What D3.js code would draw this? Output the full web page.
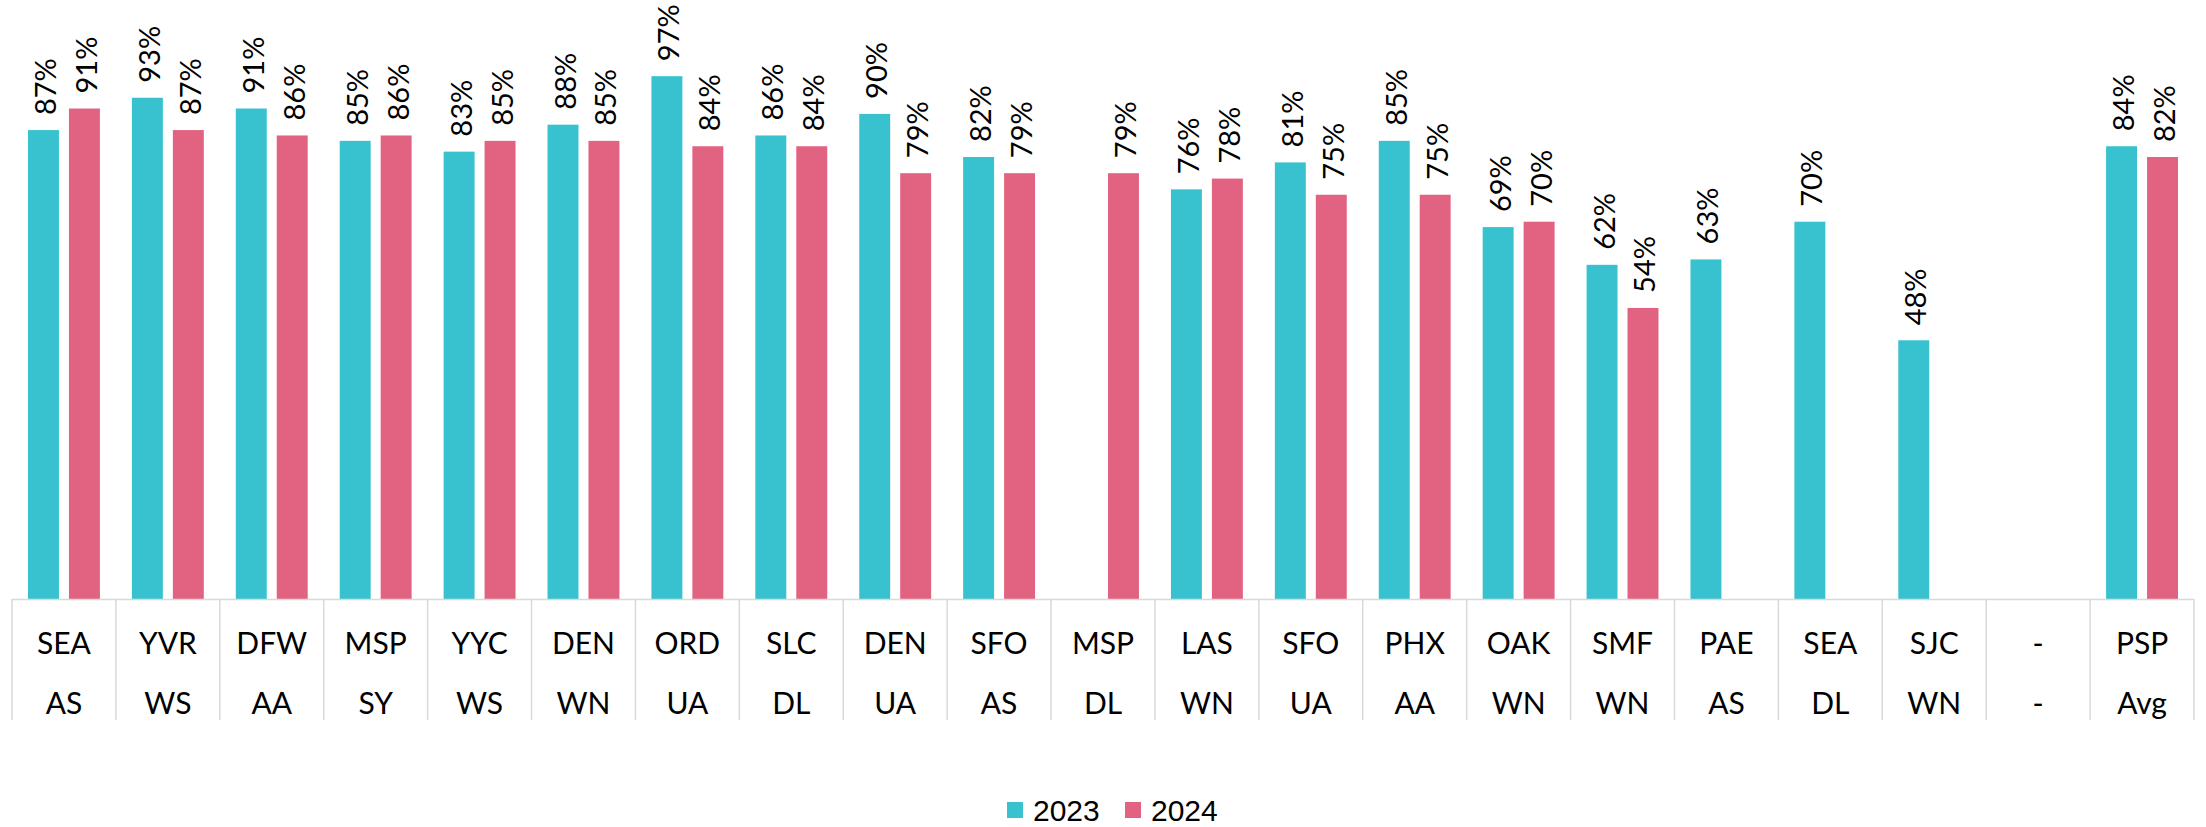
<!DOCTYPE html>
<html>
<head>
<meta charset="utf-8">
<script src="https://cdn.jsdelivr.net/npm/d3@7"></script>
<style>
html,body{margin:0;padding:0;background:#fff;}
svg{display:block;}
</style>
</head>
<body>
<svg id="chart" width="2206" height="827"></svg>
<script>
const airports = ["SEA","YVR","DFW","MSP","YYC","DEN","ORD","SLC","DEN","SFO","MSP","LAS","SFO","PHX","OAK","SMF","PAE","SEA","SJC","-","PSP"];
const carriers = ["AS","WS","AA","SY","WS","WN","UA","DL","UA","AS","DL","WN","UA","AA","WN","WN","AS","DL","WN","-","Avg"];
const values2023 = [87,93,91,85,83,88,97,86,90,82,null,76,81,85,69,62,63,70,48,null,84];
const values2024 = [91,87,86,86,85,85,84,84,79,79,79,78,75,75,70,54,null,null,null,null,82];
const seriesNames = ["2023","2024"];
const seriesColors = ["#38C2D0","#E26381"];

const svg = d3.select("#chart");
const font = "Lato, 'Noto Sans', sans-serif";
const idx = d3.range(airports.length);

const x = d3.scaleBand().domain(idx).range([12, 2194]).paddingInner(0).paddingOuter(0);
const step = x.bandwidth();
const x1 = d3.scaleBand().domain(seriesNames).range([16, step - 16]).paddingInner(0.244);
const y = d3.scaleLinear().domain([0, 100]).range([599, 60]);

const series = [values2023, values2024];

// bars
series.forEach((vals, si) => {
  const g = svg.append("g");
  const data = idx.filter(i => vals[i] != null);
  g.selectAll("rect").data(data).join("rect")
    .attr("x", i => x(i) + x1(seriesNames[si]))
    .attr("y", i => y(vals[i]))
    .attr("width", x1.bandwidth())
    .attr("height", i => y(0) - y(vals[i]))
    .attr("fill", seriesColors[si]);
  g.selectAll("text").data(data).join("text")
    .attr("transform", i => `translate(${x(i) + x1(seriesNames[si]) + x1.bandwidth()/2 + 1},${y(vals[i]) - 15}) rotate(-90)`)
    .attr("text-anchor", "start")
    .attr("dominant-baseline", "central")
    .attr("font-family", font)
    .attr("font-size", 29)
    .attr("fill", "#000")
    .text(i => vals[i] + "%");
});

// axis line and separators
const axisColor = "#D9D9D9";
svg.append("line")
  .attr("x1", x.range()[0]).attr("x2", x.range()[1])
  .attr("y1", y(0) + 0.5).attr("y2", y(0) + 0.5)
  .attr("stroke", axisColor).attr("stroke-width", 1.5);
const bounds = idx.map(i => x(i)).concat([x.range()[1]]);
svg.append("g").selectAll("line").data(bounds).join("line")
  .attr("x1", d => d).attr("x2", d => d)
  .attr("y1", y(0)).attr("y2", 720)
  .attr("stroke", axisColor).attr("stroke-width", 1.5);

// category labels
const lab = svg.append("g").attr("font-family", font).attr("font-size", 30).attr("fill", "#000").attr("text-anchor", "middle");
lab.selectAll("text.l1").data(idx).join("text").attr("class","l1")
  .attr("x", i => x(i) + step/2).attr("y", 654).text(i => airports[i]);
lab.selectAll("text.l2").data(idx).join("text").attr("class","l2")
  .attr("x", i => x(i) + step/2).attr("y", 714).text(i => carriers[i]);

// legend
const legend = svg.append("g").attr("font-family", "'Liberation Sans', Arial, sans-serif").attr("font-size", 30);
const legX = [1007, 1125];
seriesNames.forEach((s, si) => {
  legend.append("rect").attr("x", legX[si]).attr("y", 802).attr("width", 16).attr("height", 16).attr("fill", seriesColors[si]);
  legend.append("text").attr("x", legX[si] + 26).attr("y", 821).attr("fill", "#000").text(s);
});
</script>
</body>
</html>
